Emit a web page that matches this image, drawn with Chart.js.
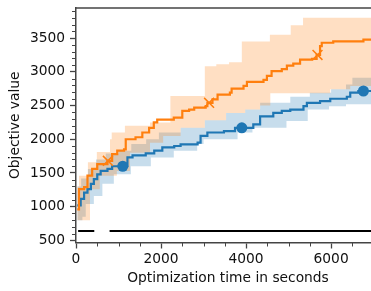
<!DOCTYPE html>
<html>
<head>
<meta charset="utf-8">
<script src="https://cdn.jsdelivr.net/npm/chart.js@4.4.1/dist/chart.umd.min.js"></script>
<style>
  html, body { margin: 0; padding: 0; overflow: hidden; background: #fff; }
  canvas { display: block; }
</style>
</head>
<body>
<canvas id="grafik" width="380" height="291"></canvas>
<script>
// sumbu
const xTicks = [0, 500, 1000, 1500, 2000, 2500, 3000, 3500, 4000, 4500, 5000, 5500, 6000, 6500, 7000];
const xMajor = [0, 2000, 4000, 6000];
const yTicks = [500, 600, 700, 800, 900, 1000, 1100, 1200, 1300, 1400, 1500, 1600, 1700, 1800, 1900, 2000,
  2100, 2200, 2300, 2400, 2500, 2600, 2700, 2800, 2900, 3000, 3100, 3200, 3300, 3400, 3500, 3600, 3700, 3800, 3900];
const yMajor = [500, 1000, 1500, 2000, 2500, 3000, 3500];

// seri oranye (median)
const oranyeT = [30, 70, 190, 270, 380, 500, 740, 750, 850, 970, 1130, 1170, 1400, 1560, 1720, 1830, 1910, 2300,
  2500, 2660, 2780, 3050, 3090, 3130, 3210, 3330, 3620, 3660, 3940, 4020, 4410, 4490, 4600, 4840, 4960, 5110,
  5270, 5550, 5660, 5680, 5740, 5780, 6050, 6760, 7300];
const oranyeY = [960, 1260, 1290, 1460, 1560, 1630, 1680, 1680, 1780, 1830, 1850, 2000, 2030, 2100, 2170, 2250,
  2290, 2320, 2420, 2440, 2470, 2490, 2540, 2540, 2590, 2660, 2690, 2750, 2790, 2850, 2880, 2940, 3010, 3040,
  3090, 3120, 3180, 3190, 3250, 3250, 3380, 3430, 3450, 3475, 3475];
const oranyeMarker = [750, 3130, 5680];
// pita oranye
const oranyeAtasT = [30, 70, 280, 490, 800, 840, 1150, 1740, 2220, 3030, 3300, 3600, 3900, 4560, 5050, 5340, 7300];
const oranyeAtasY = [1300, 1460, 1660, 1810, 2000, 2100, 2200, 2250, 2640, 3080, 3110, 3140, 3450, 3550, 3690, 3800, 3800];
const oranyeBawahT = [30, 330, 560, 960, 1270, 1740, 2050, 2460, 3030, 3530, 3980, 4330, 4570, 5980, 6450, 7300];
const oranyeBawahY = [800, 1260, 1460, 1530, 1800, 1950, 2050, 2170, 2280, 2390, 2440, 2500, 2680, 2740, 2790, 2790];

// seri biru (median)
const biruT = [30, 110, 190, 270, 350, 420, 500, 580, 740, 850, 1100, 1210, 1330, 1640, 1840, 2030, 2310, 2460,
  2860, 2930, 3090, 3480, 3740, 3900, 4170, 4330, 4640, 4840, 5040, 5350, 5430, 5740, 5980, 6370, 6450, 6640,
  6760, 7300];
const biruY = [1020, 1115, 1210, 1260, 1340, 1410, 1480, 1530, 1560, 1600, 1600, 1730, 1760, 1790, 1830, 1880,
  1900, 1925, 1950, 2050, 2100, 2120, 2170, 2170, 2220, 2340, 2390, 2420, 2440, 2490, 2540, 2565, 2600, 2630,
  2690, 2715, 2715, 2715];
const biruMarker = [1100, 3900, 6760];
// pita biru
const biruAtasT = [30, 120, 280, 470, 700, 1000, 1300, 1650, 1950, 2460, 3030, 3530, 3980, 4330, 5040, 5500, 6000, 6350, 6500, 7300];
const biruAtasY = [1300, 1420, 1560, 1700, 1790, 1830, 1930, 2000, 2100, 2170, 2280, 2390, 2440, 2540, 2630, 2690, 2740, 2810, 2910, 2910];
const biruBawahT = [30, 150, 230, 420, 620, 890, 1290, 1760, 2300, 2850, 3000, 3800, 4150, 4950, 5450, 5950, 6350, 7300];
const biruBawahY = [800, 850, 1040, 1160, 1340, 1480, 1600, 1730, 1830, 1930, 2000, 2100, 2170, 2270, 2440, 2490, 2520, 2520];

// garis hitam referensi
const refT = [50, 430, 610, 790, 7300];
const refY = [640, 640, null, 640, 640];

const oranye = "#ff7f0e";
const biru = "#1f77b4";
const warnaSumbu = "#444444";
const huruf = { family: "DejaVu Sans", size: 13.8 };

function pasang(t, y) {
  return t.map((v, i) => ({ x: v, y: y[i] }));
}

const garisTambahan = {
  id: "garisTambahan",
  afterDraw(chart) {
    const { ctx, chartArea, scales } = chart;
    ctx.save();
    ctx.strokeStyle = warnaSumbu;
    ctx.lineWidth = 1.5;
    ctx.beginPath();
    ctx.moveTo(chartArea.left - 0.75, chartArea.top);
    ctx.lineTo(chartArea.right, chartArea.top);
    ctx.stroke();

    // tick minor
    ctx.lineWidth = 1;
    ctx.beginPath();
    xTicks.filter(v => !xMajor.includes(v)).forEach(v => {
      const px = Math.round(scales.x.getPixelForValue(v)) + 0.5;
      ctx.moveTo(px, chartArea.bottom);
      ctx.lineTo(px, chartArea.bottom + 4);
    });
    yTicks.filter(v => !yMajor.includes(v)).forEach(v => {
      const py = Math.round(scales.y.getPixelForValue(v)) + 0.5;
      ctx.moveTo(chartArea.left, py);
      ctx.lineTo(chartArea.left - 4, py);
    });
    ctx.stroke();
    ctx.restore();
  }
};

new Chart(document.getElementById("grafik"), {
  type: "line",
  data: {
    datasets: [
      {
        data: pasang(refT, refY), borderColor: "#000", borderWidth: 2,
        pointRadius: 0, spanGaps: false, order: 0
      },
      {
        data: pasang(oranyeT, oranyeY), borderColor: oranye, backgroundColor: oranye,
        borderWidth: 2.2, stepped: true, order: 1,
        pointStyle: "crossRot", pointBorderWidth: 1.5,
        pointRadius: c => (c.raw && oranyeMarker.includes(c.raw.x)) ? 7 : 0
      },
      {
        data: pasang(biruT, biruY), borderColor: biru, backgroundColor: biru,
        borderWidth: 2.2, stepped: true, order: 2,
        pointStyle: "circle", pointBorderWidth: 0,
        pointRadius: c => (c.raw && biruMarker.includes(c.raw.x)) ? 5.5 : 0
      },
      {
        data: pasang(biruAtasT, biruAtasY), borderWidth: 0, pointRadius: 0, stepped: true,
        fill: "+1", backgroundColor: "rgba(31,119,180,0.25)", order: 8
      },
      {
        data: pasang(biruBawahT, biruBawahY), borderWidth: 0, pointRadius: 0, stepped: true,
        fill: false, order: 9
      },
      {
        data: pasang(oranyeAtasT, oranyeAtasY), borderWidth: 0, pointRadius: 0, stepped: true,
        fill: "+1", backgroundColor: "rgba(255,127,14,0.25)", order: 6
      },
      {
        data: pasang(oranyeBawahT, oranyeBawahY), borderWidth: 0, pointRadius: 0, stepped: true,
        fill: false, order: 7
      }
    ]
  },
  options: {
    responsive: false,
    animation: false,
    devicePixelRatio: 1,
    layout: { padding: { left: 0, top: 8, right: 0, bottom: 0 } },
    plugins: { legend: { display: false }, tooltip: { enabled: false } },
    scales: {
      x: {
        type: "linear", min: 0, max: 7150,
        afterBuildTicks: s => { s.ticks = xTicks.map(v => ({ value: v })); },
        afterFit: s => { s.height = 48.5; s.paddingLeft = 0; s.paddingRight = 0; },
        border: { display: true, color: warnaSumbu, width: 1.5 },
        grid: {
          drawOnChartArea: false, tickLength: 6, tickWidth: 1.3,
          tickColor: c => xMajor.includes(c.tick.value) ? warnaSumbu : "rgba(0,0,0,0)"
        },
        ticks: {
          autoSkip: false, maxRotation: 0, padding: 3, color: "#111", font: huruf,
          callback: v => xMajor.includes(v) ? String(v) : ""
        },
        title: {
          display: true, text: "Optimization time in seconds", color: "#111", font: huruf,
          padding: { top: 0, bottom: 4 }
        }
      },
      y: {
        type: "linear", min: 470, max: 3945,
        afterBuildTicks: s => { s.ticks = yTicks.map(v => ({ value: v })); },
        afterFit: s => { s.width = 76; s.paddingTop = 0; s.paddingBottom = 0; },
        border: { display: true, color: warnaSumbu, width: 1.5 },
        grid: {
          drawOnChartArea: false, tickLength: 6, tickWidth: 1.3,
          tickColor: c => yMajor.includes(c.tick.value) ? warnaSumbu : "rgba(0,0,0,0)"
        },
        ticks: {
          autoSkip: false, padding: 5, color: "#111", font: huruf,
          callback: v => yMajor.includes(v) ? String(v) : ""
        },
        title: {
          display: true, text: "Objective value", color: "#111", font: huruf,
          padding: { top: 7, bottom: 0 }
        }
      }
    }
  },
  plugins: [garisTambahan]
});
</script>
</body>
</html>
